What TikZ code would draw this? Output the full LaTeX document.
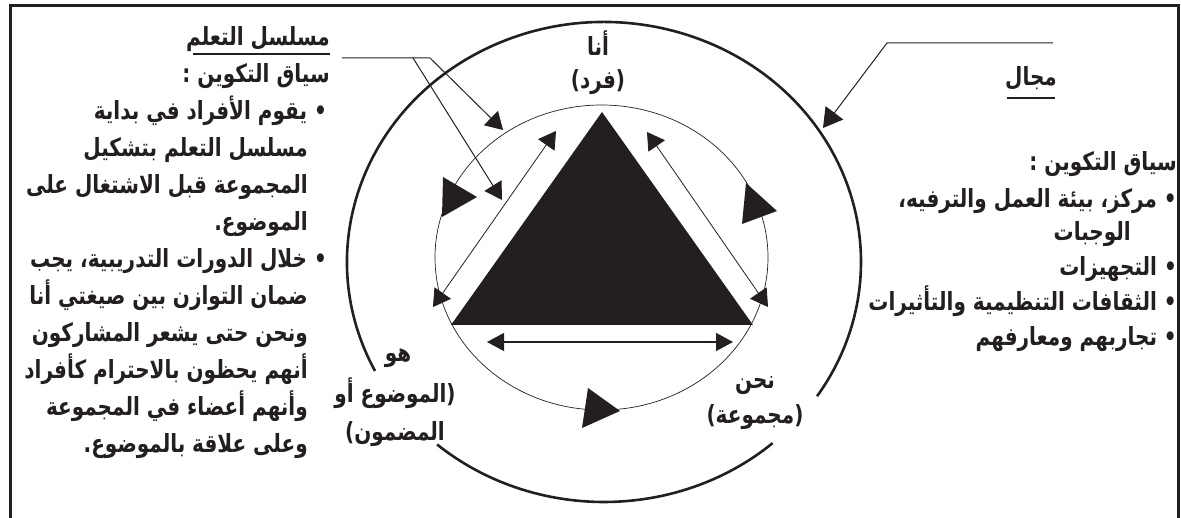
\documentclass[tikz,border=0pt]{standalone}
\usepackage{fontspec}
\usetikzlibrary{arrows.meta}
\TeXXeTstate=1
\newfontfamily\arfont[Script=Arabic, FakeStretch=0.8]{DejaVu Sans}
\definecolor{ink}{RGB}{35,31,32}
\tikzset{
  ar/.style={font=\arfont\bfseries\fontsize{25}{28}\selectfont, inner sep=0pt, text=ink, text height=18pt, text depth=6pt},
  frame/.style={draw=ink, line width=3pt},
  outer/.style={draw=ink, line width=2.6pt},
  inner/.style={draw=ink, line width=0.7pt},
  thin/.style={draw=ink, line width=0.8pt},
  lead/.style={draw=ink, line width=1pt},
  uline/.style={draw=ink, line width=2.5pt},
  head/.style={fill=ink, draw=none},
  tipS/.style={-{Triangle[length=17pt,width=20pt]}},
  tipL/.style={-{Triangle[length=19pt,width=22pt]}},
  dblS/.style={{Triangle[length=17pt,width=20pt]}-{Triangle[length=17pt,width=20pt]}},
  dblH/.style={{Triangle[length=17pt,width=18pt]}-{Triangle[length=17pt,width=18pt]}},
}
\begin{document}
\begin{tikzpicture}[x=1pt,y=-1pt]
\useasboundingbox (0,0) rectangle (1181,518);
% frame
\draw[frame] (10,530) -- (10,6) -- (1178,6) -- (1178,530);

% outer ellipse (two arcs)
\draw[outer] (604,262) ++(153:257 and 240) arc[start angle=153, end angle=394, x radius=257, y radius=240];
\draw[outer] (604,262) ++(49:257 and 240) arc[start angle=49, end angle=130.5, x radius=257, y radius=240];

% inner ellipse
\draw[inner] (601.5,257.5) ellipse[x radius=166.5, y radius=152.5];

% big triangle
\fill[ink] (602,112) -- (451,325) -- (753,325) -- cycle;

% big triangles on inner circle
\fill[head] (443,177) -- (442,217) -- (477,197) -- cycle;
\fill[head] (746,183) -- (742,224) -- (777,211) -- cycle;
\fill[head] (588,388) -- (582,428) -- (620,411) -- cycle;

% coordinates
\coordinate (la) at (556,131);
\coordinate (lb) at (433,307);
\coordinate (ra) at (647,132);
\coordinate (rb) at (768,307);
\coordinate (ha) at (487,342);
\coordinate (hb) at (733,342);
\coordinate (ls) at (342,58);
\coordinate (lk1) at (430,58);
\coordinate (lk2) at (413,58);
\coordinate (lt1) at (503,130);
\coordinate (lt2) at (502,200);
\coordinate (ms) at (1053,43);
\coordinate (mk) at (887,43);
\coordinate (mt) at (823,128);

\draw[thin, dblS] (lb) -- (la);
\draw[thin, dblS] (ra) -- (rb);
\draw[line width=1.2pt, draw=ink, dblH] (ha) -- (hb);
\draw[lead, tipS] (ls) -- (lk1) -- (lt1);
\draw[lead, tipS] (lk2) -- (lt2);
\draw[lead, tipL] (ms) -- (mk) -- (mt);

% centre labels
\node[ar] (ana) at (598,50) {\beginR أنا\endR};
\node[ar] (fard) at (598,83) {\beginR (فرد)\endR};
\node[ar] (huwa) at (398,356) {\beginR هو\endR};
\node[ar] (mawd) at (395,397) {\beginR (الموضوع أو\endR};
\node[ar] (madm) at (395,435) {\beginR المضمون)\endR};
\node[ar] (nahn) at (755,383) {\beginR نحن\endR};
\node[ar] (majm) at (755,418) {\beginR (مجموعة)\endR};

% left column
\node[ar, anchor=east] (l1) at (330,40) {\beginR مسلسل التعلم\endR};
\draw[uline] (193,54) -- (330,54);
\node[ar, anchor=east] (l2) at (330,77) {\beginR سياق التكوين :\endR};
\node[ar, anchor=east] (l3) at (327,114) {\beginR • يقوم الأفراد في بداية\endR};
\node[ar, anchor=east] (l4) at (308,151) {\beginR مسلسل التعلم بتشكيل\endR};
\node[ar, anchor=east] (l5) at (308,188) {\beginR المجموعة قبل الاشتغال على\endR};
\node[ar, anchor=east] (l6) at (308,225) {\beginR الموضوع.\endR};
\node[ar, anchor=east] (l7) at (327,262) {\beginR • خلال الدورات التدريبية، يجب\endR};
\node[ar, anchor=east] (l8) at (308,299) {\beginR ضمان التوازن بين صيغتي أنا\endR};
\node[ar, anchor=east] (l9) at (308,336) {\beginR ونحن حتى يشعر المشاركون\endR};
\node[ar, anchor=east] (l10) at (308,373) {\beginR أنهم يحظون بالاحترام كأفراد\endR};
\node[ar, anchor=east] (l11) at (308,410) {\beginR وأنهم أعضاء في المجموعة\endR};
\node[ar, anchor=east] (l12) at (308,447) {\beginR وعلى علاقة بالموضوع.\endR};

% right column
\node[ar] (majal) at (1031,80) {\beginR مجال\endR};
\draw[uline] (1007,98) -- (1055,98);
\node[ar, anchor=east] (r1) at (1177,165) {\beginR سياق التكوين :\endR};
\node[ar, anchor=east] (r2) at (1177,202) {\beginR • مركز، بيئة العمل والترفيه،\endR};
\node[ar, anchor=east] (r3) at (1131,235) {\beginR الوجبات\endR};
\node[ar, anchor=east] (r4) at (1177,270) {\beginR • التجهيزات\endR};
\node[ar, anchor=east] (r5) at (1177,305) {\beginR • الثقافات التنظيمية والتأثيرات\endR};
\node[ar, anchor=east] (r6) at (1177,340) {\beginR • تجاربهم ومعارفهم\endR};
\end{tikzpicture}
\end{document}
